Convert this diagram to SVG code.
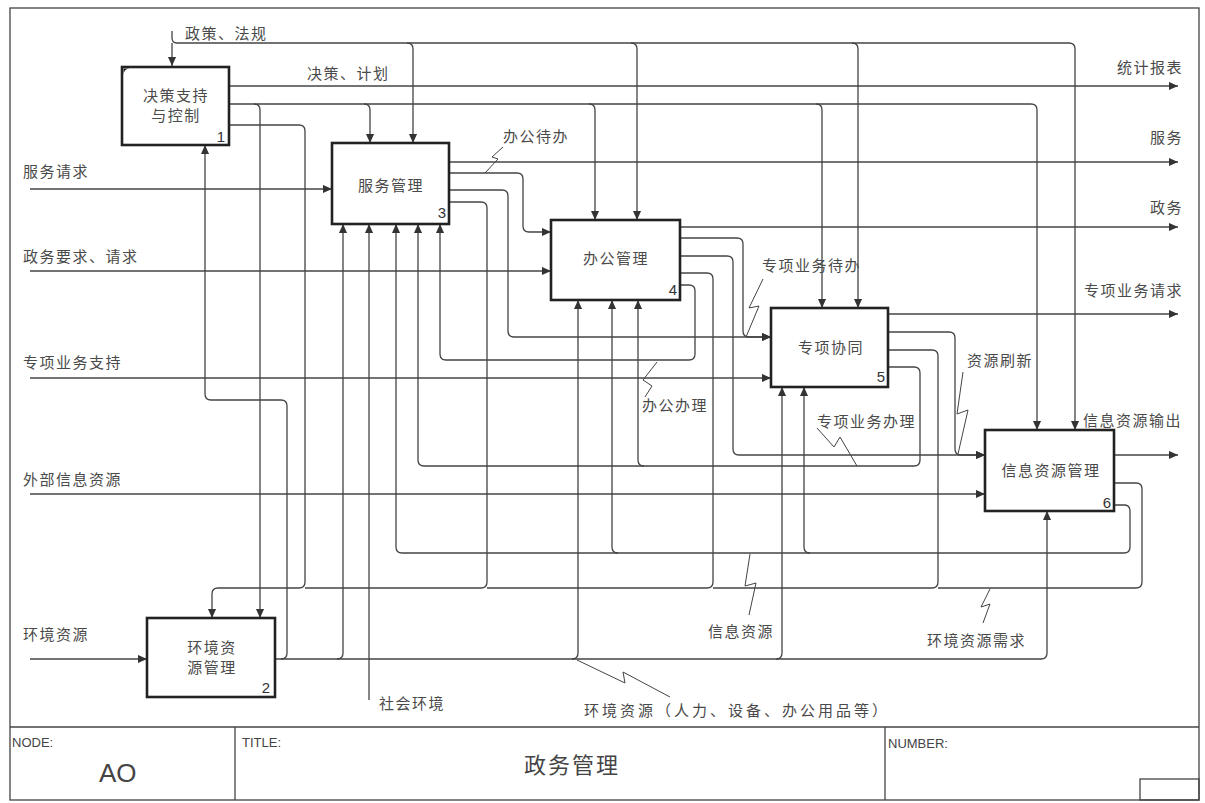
<svg xmlns="http://www.w3.org/2000/svg" width="1205" height="803" viewBox="0 0 1205 803">
<style>
.frame{fill:none;stroke:#444;stroke-width:1.3}
.box{fill:#fff;stroke:#222;stroke-width:2.6}
.c{fill:none;stroke:#444;stroke-width:1.3}
.ca{fill:none;stroke:#444;stroke-width:1.3;marker-end:url(#ah)}
.sq{fill:none;stroke:#444;stroke-width:1}
.t{font-family:"Noto Sans CJK SC","Noto Sans",sans-serif;font-size:15px;letter-spacing:1.5px;fill:#4a4a4a}
.bt{font-family:"Noto Sans CJK SC","Noto Sans",sans-serif;font-size:15px;letter-spacing:1.5px;fill:#4a4a4a;text-anchor:middle}
.n{font-family:"Liberation Sans",Arial,sans-serif;font-size:15px;fill:#333;text-anchor:end}
.tb{font-family:"Liberation Sans",Arial,sans-serif;font-size:13px;fill:#444}
</style>
<defs>
<marker id="ah" viewBox="0 0 10 10" refX="10" refY="5" markerWidth="9" markerHeight="9" markerUnits="userSpaceOnUse" orient="auto"><path d="M0,0.5 L10,5 L0,9.5 z" fill="#333"/></marker>
</defs>
<rect width="1205" height="803" fill="#fff"/>
<g id="frame">
<rect class="frame" x="10" y="8" width="1189" height="792"/>
<line class="frame" x1="10" y1="727" x2="1199" y2="727"/>
<line class="frame" x1="235" y1="727" x2="235" y2="800"/>
<line class="frame" x1="885" y1="727" x2="885" y2="800"/>
<rect class="frame" x="1140" y="779" width="59" height="21"/>
<text class="tb" x="12" y="747">NODE:</text>
<text x="99" y="782" style="font-family:'Liberation Sans',Arial,sans-serif;font-size:26px;fill:#444">AO</text>
<text class="tb" x="242" y="747">TITLE:</text>
<text x="572" y="773" style="font-family:'Noto Sans CJK SC',sans-serif;font-size:22px;letter-spacing:2px;fill:#444;text-anchor:middle">政务管理</text>
<text class="tb" x="888" y="748">NUMBER:</text>
</g>
<g id="connectors">
<path class="ca" d="M172,31 V38 Q172,43 177,43 H1069 Q1075,43 1075,49 V430"/>
<path class="ca" d="M172,43 V66"/>
<path class="ca" d="M407,43 Q413,43 413,49 V143"/>
<path class="ca" d="M631,43 Q637,43 637,49 V220"/>
<path class="ca" d="M852,43 Q858,43 858,49 V308"/>
<path class="ca" d="M229,86 H1178"/>
<path class="ca" d="M229,104 H1031 Q1037,104 1037,110 V430"/>
<path class="ca" d="M254,104 Q260,104 260,110 V618"/>
<path class="ca" d="M364,104 Q370,104 370,110 V143"/>
<path class="ca" d="M589,104 Q595,104 595,110 V220"/>
<path class="ca" d="M816,104 Q822,104 822,110 V308"/>
<path class="ca" d="M229,125 H299 Q305,125 305,131 V582 Q305,588 299,588 H218 Q212,588 212,594 V618"/>
<path class="ca" d="M30,189 H332"/>
<path class="ca" d="M30,271 H551"/>
<path class="ca" d="M30,378 H771"/>
<path class="ca" d="M30,494 H985"/>
<path class="ca" d="M30,659 H147"/>
<path class="ca" d="M449,162 H1178"/>
<path class="ca" d="M449,173 H517 Q523,173 523,179 V226 Q523,232 529,232 H551"/>
<path class="ca" d="M449,190 H502 Q508,190 508,196 V331 Q508,337 514,337 H771"/>
<path class="c" d="M449,202 H481 Q487,202 487,208 V582 Q487,588 481,588 H305"/>
<path class="ca" d="M680,227 H1178"/>
<path class="ca" d="M680,238 H737 Q743,238 743,244 V331 Q743,337 749,337 H771"/>
<path class="ca" d="M680,256 H727 Q733,256 733,262 V449 Q733,455 739,455 H985"/>
<path class="c" d="M680,273 H707 Q713,273 713,279 V582 Q713,588 707,588 H487"/>
<path class="ca" d="M680,285 H689 Q695,285 695,291 V354 Q695,360 689,360 H446 Q440,360 440,354 V224"/>
<path class="ca" d="M888,314 H1178"/>
<path class="ca" d="M888,332 H949 Q955,332 955,338 V449 Q955,455 961,455 H985"/>
<path class="c" d="M888,350 H932 Q938,350 938,356 V582 Q938,588 932,588 H713"/>
<path class="ca" d="M888,367 H914 Q920,367 920,373 V460 Q920,466 914,466 H424 Q418,466 418,460 V224"/>
<path class="ca" d="M644,466 Q638,466 638,460 V300"/>
<path class="ca" d="M1114,455 H1178"/>
<path class="c" d="M1114,483 H1136 Q1142,483 1142,489 V582 Q1142,588 1136,588 H938"/>
<path class="ca" d="M1114,505 H1124 Q1130,505 1130,511 V547 Q1130,553 1124,553 H402 Q396,553 396,547 V224"/>
<path class="ca" d="M618,553 Q612,553 612,547 V300"/>
<path class="ca" d="M810,553 Q804,553 804,547 V387"/>
<path class="ca" d="M275,659 H1041 Q1047,659 1047,653 V511"/>
<path class="ca" d="M281,659 Q287,659 287,653 V406 Q287,400 281,400 H211 Q205,400 205,394 V145"/>
<path class="ca" d="M337,659 Q343,659 343,653 V224"/>
<path class="ca" d="M572,659 Q578,659 578,653 V300"/>
<path class="ca" d="M776,659 Q782,659 782,653 V387"/>
<path class="ca" d="M369,700 V224"/>
<path class="sq" d="M503,147 L492,157 L498,159 L485,173"/>
<path class="sq" d="M763,279 L749,308 L759,306 L746,337"/>
<path class="sq" d="M657,362 L643,380 L652,386 L645,397"/>
<path class="sq" d="M963,372 L957,414 L968,410 L958,454"/>
<path class="sq" d="M817,428 L834,447 L840,437 L857,466"/>
<path class="sq" d="M750,554 L745,586 L756,583 L749,615"/>
<path class="sq" d="M990,589 L981,607 L990,604 L983,623"/>
<path class="sq" d="M577,660 L625,683 L623,672 L670,697"/>
</g>
<g id="labels">
<text class="t" x="185" y="39">政策、法规</text>
<text class="t" x="307" y="79">决策、计划</text>
<text class="t" x="1183" y="73" text-anchor="end">统计报表</text>
<text class="t" x="1183" y="143" text-anchor="end">服务</text>
<text class="t" x="1183" y="213" text-anchor="end">政务</text>
<text class="t" x="1183" y="296" text-anchor="end">专项业务请求</text>
<text class="t" x="1083" y="426">信息资源输出</text>
<text class="t" x="23" y="177">服务请求</text>
<text class="t" x="23" y="262">政务要求、请求</text>
<text class="t" x="23" y="368">专项业务支持</text>
<text class="t" x="23" y="485">外部信息资源</text>
<text class="t" x="23" y="640">环境资源</text>
<text class="t" x="503" y="142">办公待办</text>
<text class="t" x="762" y="271">专项业务待办</text>
<text class="t" x="642" y="411">办公办理</text>
<text class="t" x="967" y="366">资源刷新</text>
<text class="t" x="817" y="427">专项业务办理</text>
<text class="t" x="708" y="637">信息资源</text>
<text class="t" x="927" y="646">环境资源需求</text>
<text class="t" x="379" y="709">社会环境</text>
<text class="t" x="584" y="716" style="letter-spacing:3px">环境资源（人力、设备、办公用品等）</text>
</g>
<g id="node1">
<rect class="box" x="122" y="67" width="107" height="78"/>
<path d="M123.5,68.5 h6 a6,6 0 0 0 -6,6 z" fill="#222"/>
<text class="bt" x="176" y="101">决策支持</text>
<text class="bt" x="176" y="121">与控制</text>
<text class="n" x="225" y="142">1</text>
</g>
<g id="node2">
<rect class="box" x="147" y="618" width="128" height="79"/>
<text class="bt" x="212" y="653">环境资</text>
<text class="bt" x="212" y="673">源管理</text>
<text class="n" x="270" y="693">2</text>
</g>
<g id="node3">
<rect class="box" x="332" y="143" width="117" height="81"/>
<text class="bt" x="391" y="191">服务管理</text>
<text class="n" x="446" y="218">3</text>
</g>
<g id="node4">
<rect class="box" x="551" y="220" width="129" height="80"/>
<text class="bt" x="616" y="264">办公管理</text>
<text class="n" x="677" y="295">4</text>
</g>
<g id="node5">
<rect class="box" x="771" y="308" width="117" height="79"/>
<text class="bt" x="831" y="353">专项协同</text>
<text class="n" x="885" y="382">5</text>
</g>
<g id="node6">
<rect class="box" x="985" y="430" width="129" height="81"/>
<text class="bt" x="1051" y="476">信息资源管理</text>
<text class="n" x="1111" y="508">6</text>
</g>
</svg>
